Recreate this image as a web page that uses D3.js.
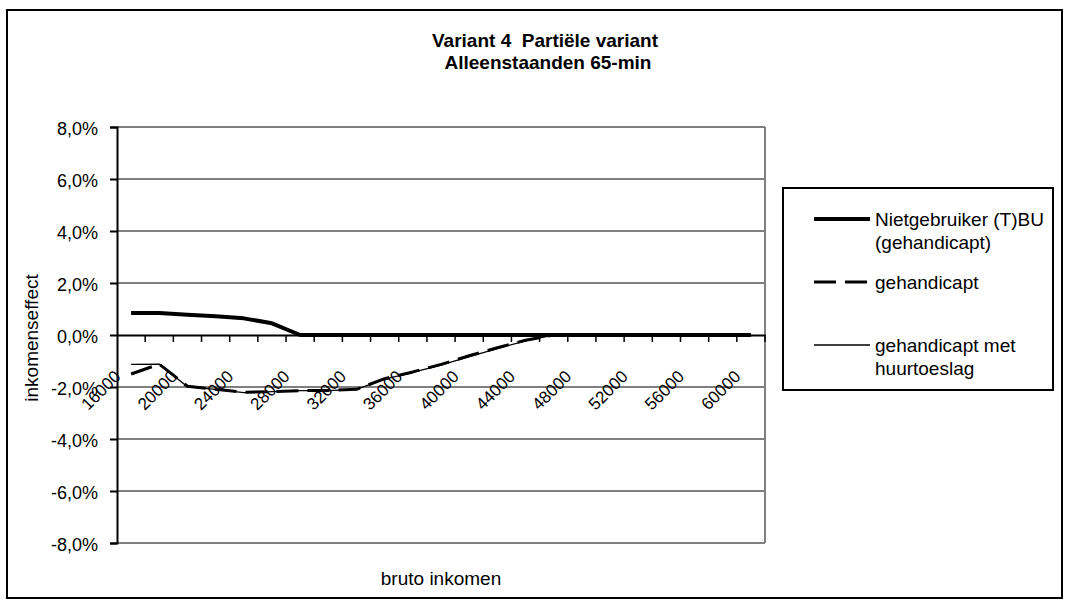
<!DOCTYPE html>
<html>
<head>
<meta charset="utf-8">
<script src="https://cdn.jsdelivr.net/npm/d3@7"></script>
<style>
  body { margin: 0; background: #fff; }
  svg { font-family: 'Liberation Sans', Arial, sans-serif; }
  text { white-space: pre; }
</style>
</head>
<body>
<div id="chart"></div>
<script>
// data (percent)
const categories = [16000, 18000, 20000, 22000, 24000, 26000, 28000, 30000, 32000, 34000, 36000, 38000,
  40000, 42000, 44000, 46000, 48000, 50000, 52000, 54000, 56000, 58000, 60000];
const tickLabels = ['16000', '20000', '24000', '28000', '32000', '36000', '40000', '44000', '48000', '52000', '56000', '60000'];
const nietgebruiker = [0.85, 0.85, 0.78, 0.72, 0.64, 0.45, 0, 0, 0, 0, 0, 0, 0, 0, 0, 0, 0, 0, 0, 0, 0, 0, 0];
const gehandicapt = [-1.5, -1.12, -1.97, -2.09, -2.2, -2.18, -2.14, -2.13, -2.09, -1.68, -1.42, -1.13, -0.8, -0.49, -0.2, 0, 0, 0, 0, 0, 0, 0, 0];
const huurtoeslag = [-1.13, -1.12, -1.99, -2.09, -2.22, -2.18, -2.14, -2.14, -2.09, -1.7, -1.44, -1.16, -0.83, -0.52, -0.23, 0, 0, 0, 0, 0, 0, 0, 0];
const yTicks = [-8, -6, -4, -2, 0, 2, 4, 6, 8];
const seriesNames = [['Nietgebruiker (T)BU', '(gehandicapt)'], ['gehandicapt'], ['gehandicapt met', 'huurtoeslag']];

class LineChart {
  constructor(_config) {
    this.config = {
      parentElement: _config.parentElement,
      containerWidth: 1071,
      containerHeight: 612,
      plot: {left: 117, top: 127, right: 765, bottom: 543}
    };
    this.initVis();
  }

  initVis() {
    let vis = this;
    let p = vis.config.plot;

    vis.svg = d3.select(vis.config.parentElement).append('svg')
      .attr('width', vis.config.containerWidth)
      .attr('height', vis.config.containerHeight);

    // outer frame
    vis.svg.append('rect')
      .attr('x', 7).attr('y', 10).attr('width', 1055).attr('height', 588)
      .attr('fill', '#fff').attr('stroke', '#000').attr('stroke-width', 2);

    // scales
    vis.xScale = d3.scaleBand().domain(categories).range([p.left, p.right]);
    vis.yScale = d3.scaleLinear().domain([-8, 8]).range([p.bottom, p.top]);

    // title
    vis.svg.append('text').attr('x', 545).attr('y', 47)
      .attr('text-anchor', 'middle').attr('font-weight', 'bold').attr('font-size', '19px')
      .text('Variant 4  Partiële variant');
    vis.svg.append('text').attr('x', 548).attr('y', 69)
      .attr('text-anchor', 'middle').attr('font-weight', 'bold').attr('font-size', '19px')
      .text('Alleenstaanden 65-min');

    // gridlines
    vis.svg.append('g').selectAll('line').data(yTicks.filter(d => d !== 0))
      .join('line')
      .attr('x1', p.left).attr('x2', p.right)
      .attr('y1', d => vis.yScale(d)).attr('y2', d => vis.yScale(d))
      .attr('stroke', d => Math.abs(d) === 8 ? '#808080' : '#000')
      .attr('stroke-width', d => Math.abs(d) === 8 ? 2 : 1);

    // plot area right border
    vis.svg.append('line')
      .attr('x1', p.right).attr('x2', p.right).attr('y1', p.top).attr('y2', p.bottom)
      .attr('stroke', '#808080').attr('stroke-width', 2);

    // y axis
    let yAxis = d3.axisLeft(vis.yScale).tickValues(yTicks).tickSize(7).tickPadding(12)
      .tickFormat(d => d3.format('.1f')(d).replace('.', ',').replace('−', '-') + '%');
    vis.svg.append('g').attr('transform', `translate(${p.left},0)`).call(yAxis)
      .call(g => g.selectAll('text').attr('font-size', '18px').attr('fill', '#000')
        .attr('font-family', "'Liberation Sans', Arial, sans-serif").attr('dy', '0.4em'))
      .call(g => g.selectAll('line, path').attr('stroke', '#000').attr('stroke-width', 2));

    // x axis on the 0 line
    let xAxis = d3.axisBottom(vis.xScale).tickSize(0).tickFormat('');
    let xg = vis.svg.append('g').attr('transform', `translate(0,${vis.yScale(0)})`).call(xAxis);
    xg.select('path').attr('stroke', '#000').attr('stroke-width', 2);
    xg.selectAll('.tick').remove();
    let bounds = categories.map(d => vis.xScale(d) + vis.xScale.bandwidth());
    xg.selectAll('.cat-tick').data(bounds).join('line').attr('class', 'cat-tick')
      .attr('x1', d => d).attr('x2', d => d).attr('y1', 0).attr('y2', 7)
      .attr('stroke', '#000').attr('stroke-width', 1.5);
    xg.selectAll('.cat-label').data(tickLabels).join('text').attr('class', 'cat-label')
      .attr('transform', d => `translate(${vis.xScale(+d) + vis.xScale.bandwidth() / 2 - 18},34) rotate(-45)`)
      .attr('text-anchor', 'end').attr('dy', '0.72em')
      .attr('font-size', '17px').attr('fill', '#000')
      .text(d => d);

    // axis titles
    vis.svg.append('text')
      .attr('transform', `translate(38,${(p.top + p.bottom) / 2 + 3}) rotate(-90)`)
      .attr('text-anchor', 'middle').attr('font-size', '19px')
      .text('inkomenseffect');
    vis.svg.append('text').attr('x', (p.left + p.right) / 2).attr('y', 585)
      .attr('text-anchor', 'middle').attr('font-size', '19px')
      .text('bruto inkomen');

    // legend
    vis.legend = vis.svg.append('g').attr('class', 'legend');
    vis.legend.append('rect').attr('x', 783).attr('y', 188).attr('width', 270).attr('height', 202)
      .attr('fill', '#fff').attr('stroke', '#000').attr('stroke-width', 2);
    vis.styles = [
      {width: 4, dash: null},
      {width: 3, dash: '22,9'},
      {width: 1.3, dash: null}
    ];
    const legendY = [219, 282, 345];
    seriesNames.forEach((name, i) => {
      vis.legend.append('line')
        .attr('x1', 814).attr('x2', 870).attr('y1', legendY[i]).attr('y2', legendY[i])
        .attr('stroke', '#000').attr('stroke-width', vis.styles[i].width)
        .attr('stroke-dasharray', vis.styles[i].dash);
      name.forEach((t, j) => {
        vis.legend.append('text').attr('x', 875).attr('y', legendY[i] + 7 + j * 23)
          .attr('font-size', '19px').text(t);
      });
    });
  }

  renderVis() {
    let vis = this;
    const line = d3.line()
      .x((d, i) => vis.xScale(categories[i]) + vis.xScale.bandwidth() / 2)
      .y(d => vis.yScale(d));
    const data = [nietgebruiker, gehandicapt, huurtoeslag];
    // draw thin ones first, thick line on top
    [2, 1, 0].forEach(i => {
      vis.svg.append('path').datum(data[i])
        .attr('d', line)
        .attr('fill', 'none').attr('stroke', '#000')
        .attr('stroke-width', vis.styles[i].width)
        .attr('stroke-dasharray', vis.styles[i].dash)
        .attr('stroke-linejoin', 'round');
    });
  }
}

const chart = new LineChart({parentElement: '#chart'});
chart.renderVis();
</script>
</body>
</html>
